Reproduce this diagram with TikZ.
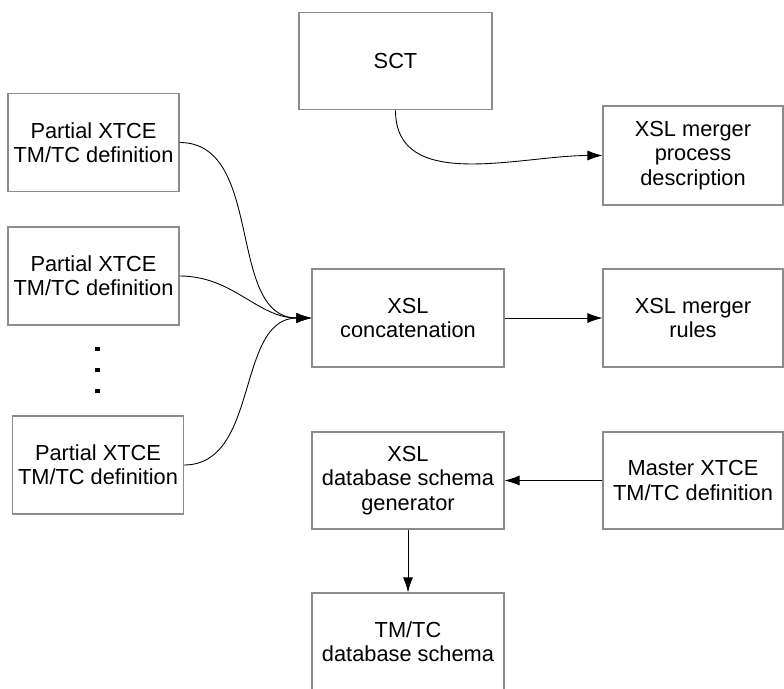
\documentclass[tikz,border=0pt]{standalone}
\usepackage{fontspec}
\setmainfont{Liberation Sans}
\usetikzlibrary{arrows.meta}

\begin{document}
\begin{tikzpicture}[
    box/.style={draw=black!45, line width=0.6pt, align=center, inner sep=0pt,
      font=\fontsize{12.4}{13.8}\selectfont},
    link/.style={draw=black, line width=0.5pt, -{Latex[length=3mm,width=2mm]}}
  ]
  \useasboundingbox (0,0) rectangle (15.68,-13.78);
  % sources on the left
  \node[box, minimum width=3.42cm, minimum height=1.96cm] (p1) at (1.87,-2.85) {Partial XTCE\\TM/TC definition};
  \node[box, minimum width=3.42cm, minimum height=1.96cm] (p2) at (1.87,-5.52) {Partial XTCE\\TM/TC definition};
  \node[box, minimum width=3.42cm, minimum height=1.96cm] (p3) at (1.96,-9.30) {Partial XTCE\\TM/TC definition};
  \foreach \y in {-6.98,-7.40,-7.82}
    \fill (1.954,\y) +(-0.045,-0.045) rectangle +(0.045,0.045);
  % middle column
  \node[box, minimum width=3.86cm, minimum height=1.94cm] (sct) at (7.91,-1.226) {SCT};
  \node[box, minimum width=3.84cm, minimum height=1.96cm] (cat) at (8.16,-6.36) {XSL\\concatenation};
  \node[box, minimum width=3.84cm, minimum height=1.94cm] (gen) at (8.16,-9.61) {XSL\\database schema\\generator};
  \node[box, minimum width=3.84cm, minimum height=1.96cm] (schema) at (8.16,-12.84) {TM/TC\\database schema};
  % right column
  \node[box, minimum width=3.6cm, minimum height=1.98cm] (proc) at (13.86,-3.11) {XSL merger\\process\\description};
  \node[box, minimum width=3.6cm, minimum height=1.96cm] (rules) at (13.86,-6.36) {XSL merger\\rules};
  \node[box, minimum width=3.6cm, minimum height=1.94cm] (master) at (13.86,-9.61) {Master XTCE\\TM/TC definition};
  % connectors
  \draw[link] (sct.south) to[out=-90, in=180] (proc.west);
  \draw[link] (p1.east) to[out=0, in=180] (cat.west);
  \draw[link] (p2.east) to[out=0, in=180] (cat.west);
  \draw[link] (p3.east) to[out=0, in=180] (cat.west);
  \draw[link] (cat) -- (rules);
  \draw[link] (master) -- (gen);
  \draw[link] (gen) -- (schema);
\end{tikzpicture}
\end{document}
